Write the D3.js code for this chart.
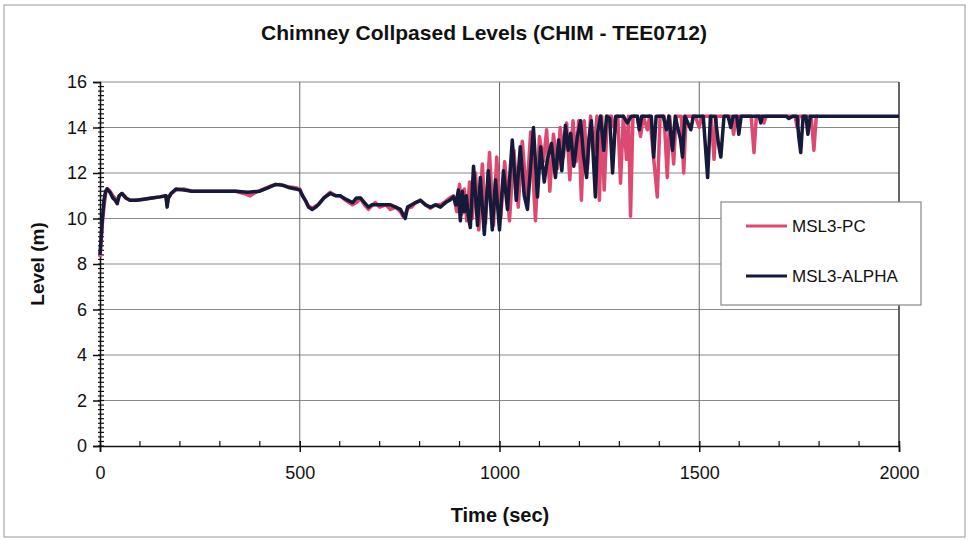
<!DOCTYPE html>
<html>
<head>
<meta charset="utf-8">
<script src="https://cdn.jsdelivr.net/npm/d3@7"></script>
<style>
  body { margin: 0; background: #fff; }
  text { font-family: "Liberation Sans", Arial, sans-serif; fill: #111; }
</style>
</head>
<body>
<div id="chart"></div>
<script>
// series data (time in sec, level in m)
const timePC = [0, 3, 6, 10, 14, 18, 25, 32, 38, 43, 48, 55, 65, 75, 90, 110, 130, 150, 165, 168, 171, 178, 190, 210, 230, 250, 280, 310, 340, 360, 376, 390, 410, 430, 450, 470, 490, 500, 507, 514, 522, 531, 540, 546, 560, 576, 590, 601, 615, 632, 642, 652, 662, 672, 680, 689, 700, 715, 727, 740, 752, 758, 764, 770, 780, 790, 802, 815, 827, 840, 852, 865, 875,
  885, 893, 900, 906, 912, 918, 925, 932, 940, 948, 957, 965, 975, 985, 993, 1003, 1013, 1025, 1036, 1047, 1057, 1068, 1078, 1090, 1100, 1110, 1118, 1126, 1135, 1145, 1152, 1160, 1168, 1176, 1184, 1192, 1198, 1205, 1212, 1220, 1228, 1236, 1244, 1250, 1256, 1262, 1270, 1280, 1290, 1296, 1303, 1310, 1318, 1323, 1328, 1334, 1345, 1353, 1360, 1370, 1376, 1395, 1402, 1412, 1420, 1426, 1436, 1442, 1455, 1461, 1467, 1490, 1500, 1506, 1530, 1537, 1543, 1580, 1586, 1592, 1630, 1637, 1643, 1657, 1662, 1667, 1740, 1745, 1750, 1780, 1787, 1793, 1797];
const levelPC = [8.3, 9.0, 9.8, 10.5, 11.1, 11.3, 11.2, 11.0, 10.9, 10.75, 11.0, 11.1, 10.9, 10.8, 10.8, 10.85, 10.9, 10.95, 11.0, 10.6, 10.9, 11.1, 11.25, 11.3, 11.2, 11.2, 11.2, 11.2, 11.2, 11.1, 11.0, 11.15, 11.3, 11.45, 11.5, 11.4, 11.35, 11.3, 11.0, 10.8, 10.55, 10.45, 10.55, 10.6, 10.9, 11.15, 11.0, 11.0, 10.8, 10.6, 10.7, 10.9, 10.6, 10.4, 10.55, 10.7, 10.5, 10.6, 10.4, 10.5, 10.3, 10.1, 10.2, 10.45, 10.5, 10.7, 10.8, 10.6, 10.45, 10.6, 10.6, 10.75, 10.9,
  11.0, 10.3, 11.5, 10.2, 11.3, 9.9, 11.6, 10.0, 12.0, 9.5, 12.4, 9.8, 12.9, 9.7, 12.7, 10.0, 12.5, 9.9, 13.0, 10.5, 13.4, 11.0, 13.8, 9.9, 13.6, 12.5, 13.9, 11.2, 13.7, 12.2, 14.0, 12.7, 14.2, 11.7, 14.3, 12.5, 14.3, 10.8, 14.3, 12.2, 14.5, 12.9, 14.5, 10.8, 14.5, 11.25, 14.5, 14.5, 13.8, 14.5, 11.55, 14.5, 12.6, 14.5, 10.1, 14.5, 14.5, 13.6, 14.5, 13.9, 14.5, 10.95, 14.5, 14.5, 11.8, 14.5, 12.4, 14.5, 14.5, 12.0, 14.5, 14.5, 14.0, 14.5, 14.5, 12.6, 14.5, 14.5, 13.7, 14.5, 14.5, 12.9, 14.5, 14.5, 14.2, 14.5, 14.5, 14.0, 14.5, 14.5, 13.0, 14.5, 14.5];

const timeAlpha = [0, 3, 6, 10, 14, 18, 25, 32, 38, 43, 48, 55, 65, 75, 90, 110, 130, 150, 165, 168, 171, 178, 190, 210, 230, 250, 280, 310, 340, 370, 400, 420, 440, 460, 475, 490, 500, 507, 514, 522, 531, 540, 546, 560, 576, 590, 601, 615, 632, 642, 652, 662, 672, 680, 689, 700, 715, 727, 740, 752, 758, 764, 770, 780, 790, 802, 815, 827, 840,
  852, 865, 875, 885, 891, 897, 902, 907, 912, 917, 922, 927, 935, 945, 952, 962, 972, 982, 990, 1000, 1010, 1020, 1032, 1042, 1052, 1062, 1070, 1085, 1095, 1103, 1112, 1120, 1130, 1140, 1148, 1156, 1165, 1172, 1178, 1186, 1195, 1203, 1210, 1218, 1224, 1230, 1240, 1246, 1253, 1261, 1268, 1276, 1283, 1291, 1310, 1320, 1330, 1345, 1350, 1356, 1380, 1386, 1392, 1410, 1418, 1424, 1433, 1440, 1446, 1453, 1458, 1464, 1479, 1485, 1510, 1521, 1528, 1540, 1548, 1554, 1562, 1572, 1579, 1585, 1594, 1599, 1605, 1650, 1654, 1658, 1718, 1724, 1735, 1745, 1749, 1754, 1760, 1767, 1772, 1778, 2000];
const levelAlpha = [8.4, 9.2, 10.0, 10.8, 11.2, 11.3, 11.15, 10.9, 10.8, 10.65, 11.0, 11.1, 10.9, 10.8, 10.8, 10.85, 10.9, 10.95, 11.0, 10.5, 10.9, 11.1, 11.3, 11.25, 11.2, 11.2, 11.2, 11.2, 11.2, 11.15, 11.2, 11.35, 11.5, 11.45, 11.35, 11.3, 11.25, 11.0, 10.8, 10.5, 10.4, 10.5, 10.6, 10.9, 11.1, 11.0, 11.0, 10.85, 10.7, 10.9, 10.9, 10.7, 10.5, 10.6, 10.6, 10.6, 10.6, 10.6, 10.5, 10.4, 10.2, 10.0, 10.5, 10.6, 10.7, 10.8, 10.6, 10.5, 10.6,
  10.5, 10.7, 10.8, 10.95, 10.6, 11.25, 9.9, 11.2, 10.3, 11.0, 10.1, 9.6, 12.3, 9.7, 11.8, 9.3, 12.1, 9.5, 11.7, 9.5, 12.1, 10.4, 13.45, 10.8, 13.15, 11.0, 10.4, 14.0, 10.95, 13.15, 11.6, 12.6, 13.3, 11.8, 13.45, 12.1, 14.1, 13.0, 13.75, 12.3, 13.6, 14.3, 12.8, 11.8, 13.5, 14.3, 10.95, 13.8, 14.5, 13.0, 14.5, 14.4, 12.0, 14.5, 14.5, 14.2, 14.5, 14.5, 13.9, 14.5, 14.5, 12.7, 14.5, 14.5, 13.9, 14.5, 13.0, 14.5, 14.0, 13.5, 12.7, 14.5, 13.9, 14.5, 14.5, 11.8, 14.5, 14.5, 13.3, 12.7, 14.5, 14.5, 14.0, 14.5, 14.5, 13.7, 14.5, 14.5, 14.2, 14.5, 14.5, 14.4, 14.5, 14.5, 13.6, 12.9, 14.5, 14.5, 13.7, 14.5, 14.5];

const seriesNames = ["MSL3-PC", "MSL3-ALPHA"];
const seriesColors = ["#dc4a72", "#15193a"];
const xTicks = [0, 500, 1000, 1500, 2000];
const yTicks = [0, 2, 4, 6, 8, 10, 12, 14, 16];

const width = 968, height = 540;
const plot = {left: 100, top: 82, right: 899, bottom: 446};

const svg = d3.select("#chart").append("svg")
    .attr("width", width)
    .attr("height", height);

// outer frame
svg.append("rect")
    .attr("x", 4).attr("y", 5)
    .attr("width", 961).attr("height", 532)
    .attr("fill", "none")
    .attr("stroke", "#999")
    .attr("stroke-width", 1);

let x = d3.scaleLinear().domain([0, 2000]).range([plot.left, plot.right]);
let y = d3.scaleLinear().domain([0, 16]).range([plot.bottom, plot.top]);

// grid lines
svg.selectAll(".hgrid")
    .data(yTicks.filter(d => d > 0))
    .join("line")
    .attr("x1", plot.left).attr("x2", plot.right)
    .attr("y1", d => y(d)).attr("y2", d => y(d))
    .attr("stroke", "#8a8a8a")
    .attr("stroke-width", 1.2);
svg.selectAll(".vgrid")
    .data(xTicks.filter(d => d > 0 && d < 2000))
    .join("line")
    .attr("x1", d => x(d)).attr("x2", d => x(d))
    .attr("y1", plot.top).attr("y2", plot.bottom)
    .attr("stroke", "#6a6a6a")
    .attr("stroke-width", 1);
// right border of plot
svg.append("line")
    .attr("x1", plot.right).attr("x2", plot.right)
    .attr("y1", plot.top).attr("y2", plot.bottom)
    .attr("stroke", "#333").attr("stroke-width", 1.5);

// y axis with major + minor ticks
let yAxis = d3.axisLeft(y).tickValues(yTicks).tickSize(7).tickPadding(6);
let gy = svg.append("g").attr("transform", `translate(${plot.left},0)`).call(yAxis);
gy.select(".domain").attr("stroke", "#111").attr("stroke-width", 1.5);
gy.selectAll(".tick line").attr("stroke", "#111").attr("stroke-width", 1.5);
gy.selectAll("text").style("font-size", "18px").attr("fill", "#111");
let yMinor = d3.range(0, 80).map(i => i * 0.2);
svg.append("g").selectAll("line")
    .data(yMinor)
    .join("line")
    .attr("x1", plot.left - 2).attr("x2", plot.left + 4)
    .attr("y1", d => y(d)).attr("y2", d => y(d))
    .attr("stroke", "#111").attr("stroke-width", 1.2);

// x axis
let xAxis = d3.axisBottom(x).tickValues(xTicks).tickFormat(d3.format("d")).tickSize(6).tickPadding(14);
let gx = svg.append("g").attr("transform", `translate(0,${plot.bottom})`).call(xAxis);
gx.select(".domain").attr("stroke", "#111").attr("stroke-width", 1.5);
gx.selectAll(".tick line").attr("y1", -5).attr("stroke", "#111").attr("stroke-width", 1.5);
gx.selectAll("text").style("font-size", "18px").attr("fill", "#111");
let xMinor = d3.range(1, 20).map(i => i * 100).filter(d => d % 500 !== 0);
svg.append("g").selectAll("line")
    .data(xMinor)
    .join("line")
    .attr("x1", d => x(d)).attr("x2", d => x(d))
    .attr("y1", plot.bottom - 5).attr("y2", plot.bottom)
    .attr("stroke", "#111").attr("stroke-width", 1.2);

// series
let line = d3.line()
    .x(d => x(d[0]))
    .y(d => y(d[1]));
let pcData = timePC.map((t, i) => [t, levelPC[i]]);
let alphaData = timeAlpha.map((t, i) => [t, levelAlpha[i]]);
[pcData, alphaData].forEach((data, i) => {
    svg.append("path")
        .datum(data)
        .attr("d", line)
        .attr("fill", "none")
        .attr("stroke", seriesColors[i])
        .attr("stroke-width", 3.5)
        .attr("stroke-linejoin", "round");
});

// titles
svg.append("text")
    .attr("x", 484).attr("y", 40)
    .attr("text-anchor", "middle")
    .style("font-size", "21px").style("font-weight", "bold")
    .text("Chimney Collpased Levels (CHIM - TEE0712)");
svg.append("text")
    .attr("x", 500).attr("y", 522)
    .attr("text-anchor", "middle")
    .style("font-size", "20px").style("font-weight", "bold")
    .text("Time (sec)");
svg.append("text")
    .attr("transform", "translate(44,264) rotate(-90)")
    .attr("text-anchor", "middle")
    .style("font-size", "19px").style("font-weight", "bold")
    .text("Level (m)");

// legend
let legend = svg.append("g");
legend.append("rect")
    .attr("x", 721).attr("y", 202)
    .attr("width", 200).attr("height", 103)
    .attr("fill", "#fff")
    .attr("stroke", "#888").attr("stroke-width", 1.2);
seriesNames.forEach((name, i) => {
    let ly = 226 + i * 50;
    legend.append("line")
        .attr("x1", 746).attr("x2", 787)
        .attr("y1", ly).attr("y2", ly)
        .attr("stroke", seriesColors[i]).attr("stroke-width", 3);
    legend.append("text")
        .attr("x", 792).attr("y", ly + 6)
        .style("font-size", "17px")
        .text(name);
});
</script>
</body>
</html>
